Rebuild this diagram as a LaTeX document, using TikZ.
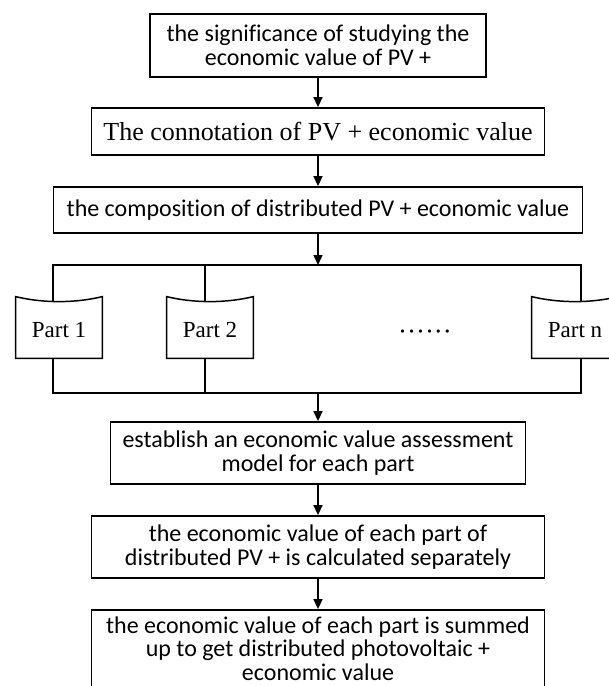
\documentclass[tikz,border=0pt]{standalone}
\usepackage{fontspec}
\setmainfont{Liberation Serif}
\newfontfamily\boxfont[Ligatures=NoCommon]{Carlito}
\usepackage{tikz}
\usetikzlibrary{arrows.meta}
\usetikzlibrary{calc}

\begin{document}
\begin{tikzpicture}[x=0.5pt, y=-0.5pt,
    box/.style={draw=black, line width=0.9pt, align=center, inner sep=0pt,
      font=\boxfont\fontsize{12}{11.8}\selectfont},
    serifbox/.style={box, font=\fontsize{13}{14}\selectfont},
    partbox/.style={minimum width=43pt, minimum height=28pt, inner sep=0pt,
      font=\fontsize{11.5}{12}\selectfont},
    link/.style={line width=0.75pt},
    >={Triangle[length=5pt,width=4.5pt]}]
    \useasboundingbox (0,0) rectangle (609,686);
    % main column
    \node[box, minimum width=168pt, minimum height=31.5pt] (A) at (318,45.5) {the significance of studying the\\economic value of PV +};
    \node[serifbox, minimum width=226.5pt, minimum height=23.5pt] (B) at (318,131.5) {The connotation of PV + economic value};
    \node[box, minimum width=264.5pt, minimum height=23pt] (C) at (318,210) {the composition of distributed PV + economic value};
    % parts
    \coordinate (tl) at (53,265);
    \coordinate (tm) at (318,265);
    \coordinate (t2) at (205,265);
    \coordinate (tr) at (581,265);
    \coordinate (bl) at (53,393);
    \coordinate (bm) at (318,393);
    \coordinate (br) at (581,393);
    \node[partbox] (P1) at (59,330) {Part 1};
    \node[partbox] (P2) at (210,330) {Part 2};
    \node[partbox] (Pn) at (575,330) {Part n};
    \node[partbox, font=\fontsize{13.5}{14}\selectfont] (dots) at (425,335) {······};
    \foreach \p in {P1,P2,Pn}
      \draw[link] (\p.south west) -- ([yshift=2.5pt]\p.north west)
        .. controls ([xshift=-8pt,yshift=-0.83pt]\p.north) and ([xshift=8pt,yshift=-0.83pt]\p.north)
        .. ([yshift=2.5pt]\p.north east) -- (\p.south east) -- cycle;
    \draw[link] (P1.north -| tl) -- (tl) -- (tr) -- (Pn.north -| tr);
    \draw[link] (P2.north -| t2) -- (t2);
    \draw[link] (P1.south -| bl) -- (bl) -- (br) -- (Pn.south -| br);
    \draw[link] (P2.south -| t2) -- (t2 |- bl);
    % lower column
    \node[box, minimum width=207.5pt, minimum height=31pt] (D) at (318,453) {establish an economic value assessment\\model for each part};
    \node[box, minimum width=226.5pt, minimum height=31pt] (E) at (318,547) {the economic value of each part of\\distributed PV + is calculated separately};
    \node[box, minimum width=226.5pt, minimum height=42pt] (F) at (318,652) {the economic value of each part is summed\\up to get distributed photovoltaic +\\economic value\strut};
    \path [->, link] (A) edge (B);
    \path [->, link] (B) edge (C);
    \path [->, link] (C) edge (tm);
    \path [->, link] (bm) edge (D);
    \path [->, link] (D) edge (E);
    \path [->, link] (E) edge (F);
  \end{tikzpicture}
\end{document}
